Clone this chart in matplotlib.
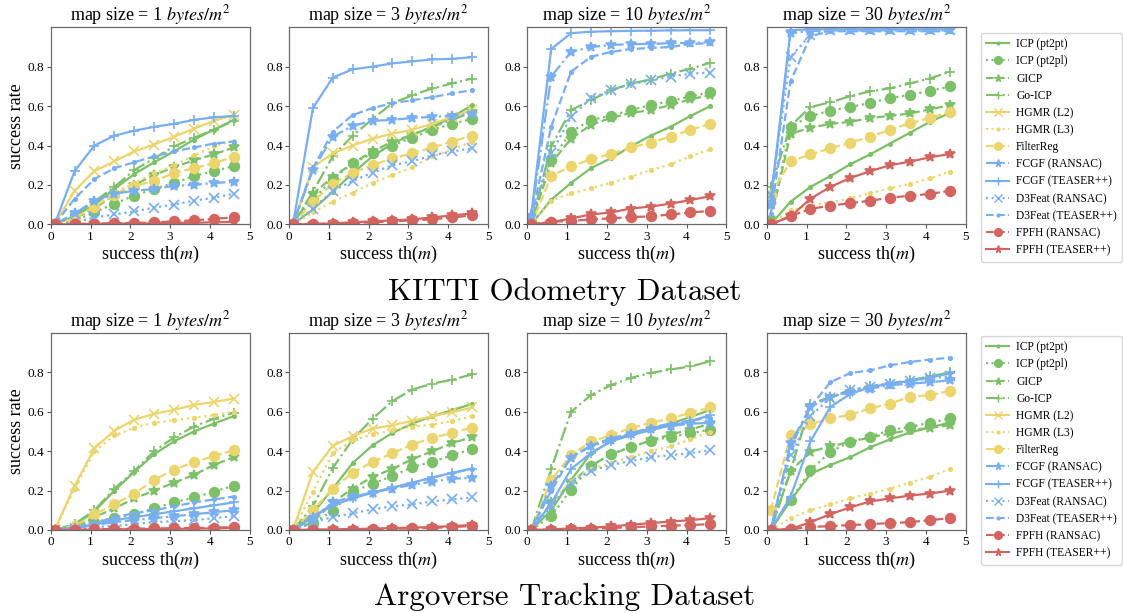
import matplotlib
matplotlib.use("Agg")
import matplotlib.pyplot as plt
from matplotlib.lines import Line2D

plt.rcParams['font.family'] = ['Liberation Serif', 'DejaVu Serif']
plt.rcParams['mathtext.fontset'] = 'stix'

# success threshold (m)
thresholds = [0.1, 0.6, 1.1, 1.6, 2.1, 2.6, 3.1, 3.6, 4.1, 4.6]
map_sizes = [1, 3, 10, 30]

methods = ["ICP (pt2pt)", "ICP (pt2pl)", "GICP", "Go-ICP", "HGMR (L2)", "HGMR (L3)",
           "FilterReg", "FCGF (RANSAC)", "FCGF (TEASER++)", "D3Feat (RANSAC)",
           "D3Feat (TEASER++)", "FPFH (RANSAC)", "FPFH (TEASER++)"]

GREEN, YELLOW, BLUE, RED = "#7cc068", "#ebd56c", "#78aef2", "#d3645f"
colors = [GREEN, GREEN, GREEN, GREEN, YELLOW, YELLOW, YELLOW,
          BLUE, BLUE, BLUE, BLUE, RED, RED]
linestyles = ["-", ":", "--", "-.", "-", ":", "--", "-.", "-", ":", "--", "--", "-"]
markers = [".", "o", "*", "+", "x", ".", "o", "*", "+", "x", ".", "o", "*"]
marker_sizes = [5, 7, 7, 7, 7, 5, 7, 7, 7, 7, 5, 7, 7]

# success rate per method (rows follow `methods`), KITTI Odometry
kitti_1 = [
    [0.0, 0.04, 0.10, 0.18, 0.255, 0.315, 0.37, 0.43, 0.48, 0.53],
    [0.0, 0.02, 0.06, 0.105, 0.145, 0.18, 0.21, 0.245, 0.27, 0.295],
    [0.0, 0.03, 0.08, 0.15, 0.20, 0.25, 0.29, 0.325, 0.355, 0.39],
    [0.0, 0.05, 0.115, 0.19, 0.275, 0.335, 0.395, 0.44, 0.48, 0.525],
    [0.0, 0.17, 0.27, 0.32, 0.37, 0.405, 0.445, 0.485, 0.525, 0.555],
    [0.0, 0.03, 0.09, 0.16, 0.21, 0.26, 0.30, 0.35, 0.395, 0.425],
    [0.0, 0.03, 0.09, 0.15, 0.195, 0.22, 0.26, 0.285, 0.31, 0.343],
    [0.0, 0.055, 0.12, 0.155, 0.17, 0.18, 0.195, 0.20, 0.21, 0.215],
    [0.0, 0.27, 0.40, 0.45, 0.475, 0.495, 0.51, 0.53, 0.543, 0.55],
    [0.0, 0.01, 0.035, 0.05, 0.065, 0.085, 0.10, 0.12, 0.135, 0.155],
    [0.0, 0.13, 0.23, 0.285, 0.315, 0.345, 0.37, 0.39, 0.41, 0.42],
    [0.0, 0.002, 0.004, 0.005, 0.007, 0.01, 0.015, 0.02, 0.028, 0.035],
    [0.0, 0.0, 0.002, 0.003, 0.004, 0.005, 0.007, 0.008, 0.01, 0.012],
]
kitti_3 = [
    [0.0, 0.075, 0.165, 0.26, 0.345, 0.41, 0.455, 0.495, 0.545, 0.605],
    [0.0, 0.125, 0.23, 0.31, 0.36, 0.40, 0.44, 0.48, 0.51, 0.535],
    [0.0, 0.155, 0.24, 0.31, 0.37, 0.42, 0.455, 0.495, 0.53, 0.57],
    [0.0, 0.165, 0.345, 0.45, 0.535, 0.615, 0.655, 0.69, 0.715, 0.74],
    [0.0, 0.29, 0.36, 0.40, 0.435, 0.46, 0.48, 0.51, 0.545, 0.58],
    [0.0, 0.06, 0.115, 0.16, 0.21, 0.25, 0.29, 0.345, 0.38, 0.42],
    [0.0, 0.115, 0.205, 0.262, 0.30, 0.335, 0.36, 0.39, 0.42, 0.45],
    [0.0, 0.275, 0.445, 0.50, 0.525, 0.53, 0.54, 0.545, 0.55, 0.56],
    [0.0, 0.59, 0.745, 0.787, 0.80, 0.817, 0.827, 0.837, 0.84, 0.848],
    [0.0, 0.08, 0.17, 0.22, 0.262, 0.30, 0.32, 0.35, 0.37, 0.385],
    [0.0, 0.285, 0.47, 0.555, 0.59, 0.615, 0.63, 0.645, 0.665, 0.68],
    [0.0, 0.002, 0.004, 0.006, 0.01, 0.015, 0.02, 0.025, 0.035, 0.045],
    [0.0, 0.0, 0.005, 0.01, 0.015, 0.02, 0.025, 0.035, 0.045, 0.055],
]
kitti_10 = [
    [0.0, 0.125, 0.21, 0.285, 0.335, 0.395, 0.45, 0.495, 0.55, 0.60],
    [0.01, 0.325, 0.47, 0.53, 0.55, 0.58, 0.605, 0.625, 0.65, 0.67],
    [0.01, 0.31, 0.435, 0.505, 0.54, 0.565, 0.58, 0.605, 0.635, 0.655],
    [0.01, 0.395, 0.58, 0.63, 0.68, 0.715, 0.735, 0.765, 0.79, 0.82],
    None,
    [0.0, 0.12, 0.157, 0.183, 0.21, 0.242, 0.275, 0.305, 0.345, 0.38],
    [0.0, 0.245, 0.295, 0.33, 0.357, 0.39, 0.415, 0.445, 0.48, 0.51],
    [0.04, 0.75, 0.875, 0.90, 0.91, 0.915, 0.915, 0.92, 0.92, 0.925],
    [0.05, 0.89, 0.97, 0.978, 0.98, 0.982, 0.983, 0.984, 0.985, 0.985],
    [0.02, 0.36, 0.545, 0.64, 0.68, 0.71, 0.73, 0.75, 0.765, 0.77],
    [0.03, 0.495, 0.775, 0.85, 0.875, 0.89, 0.895, 0.90, 0.915, 0.92],
    [0.0, 0.013, 0.017, 0.025, 0.03, 0.037, 0.04, 0.05, 0.06, 0.068],
    [0.0, 0.01, 0.03, 0.05, 0.06, 0.08, 0.09, 0.105, 0.123, 0.143],
]
kitti_30 = [
    [0.0, 0.115, 0.19, 0.245, 0.305, 0.355, 0.41, 0.465, 0.52, 0.565],
    [0.02, 0.495, 0.55, 0.577, 0.595, 0.617, 0.64, 0.657, 0.677, 0.70],
    [0.02, 0.46, 0.49, 0.51, 0.52, 0.54, 0.55, 0.563, 0.583, 0.605],
    [0.19, 0.50, 0.595, 0.62, 0.65, 0.675, 0.69, 0.715, 0.74, 0.775],
    None,
    [0.0, 0.073, 0.095, 0.11, 0.132, 0.157, 0.183, 0.205, 0.233, 0.267],
    [0.15, 0.32, 0.355, 0.385, 0.415, 0.445, 0.48, 0.513, 0.54, 0.57],
    [0.10, 0.97, 0.98, 0.985, 0.985, 0.985, 0.985, 0.985, 0.985, 0.985],
    [0.12, 0.985, 0.99, 0.99, 0.99, 0.99, 0.99, 0.99, 0.99, 0.99],
    [0.15, 0.85, 0.96, 0.985, 0.985, 0.985, 0.985, 0.985, 0.985, 0.985],
    [0.05, 0.725, 0.955, 0.98, 0.98, 0.98, 0.98, 0.98, 0.98, 0.98],
    [0.0, 0.042, 0.078, 0.095, 0.107, 0.12, 0.135, 0.145, 0.154, 0.17],
    [0.0, 0.04, 0.13, 0.19, 0.235, 0.27, 0.30, 0.318, 0.34, 0.357],
]

# Argoverse Tracking
argo_1 = [
    [0.0, 0.025, 0.095, 0.20, 0.295, 0.385, 0.45, 0.50, 0.54, 0.578],
    [0.0, 0.01, 0.04, 0.06, 0.08, 0.11, 0.14, 0.165, 0.195, 0.225],
    [0.0, 0.01, 0.065, 0.11, 0.16, 0.20, 0.24, 0.28, 0.33, 0.37],
    [0.0, 0.03, 0.10, 0.21, 0.30, 0.40, 0.47, 0.525, 0.565, 0.595],
    [0.0, 0.225, 0.415, 0.505, 0.56, 0.59, 0.61, 0.635, 0.65, 0.667],
    [0.0, 0.21, 0.40, 0.48, 0.52, 0.545, 0.557, 0.57, 0.583, 0.60],
    [0.0, 0.02, 0.08, 0.13, 0.185, 0.255, 0.305, 0.345, 0.375, 0.405],
    [0.0, 0.01, 0.025, 0.04, 0.05, 0.06, 0.07, 0.08, 0.09, 0.10],
    [0.0, 0.01, 0.03, 0.05, 0.065, 0.08, 0.095, 0.11, 0.125, 0.14],
    [0.0, 0.005, 0.015, 0.02, 0.03, 0.04, 0.045, 0.05, 0.06, 0.07],
    [0.0, 0.01, 0.035, 0.065, 0.085, 0.10, 0.12, 0.14, 0.155, 0.17],
    [0.0, 0.0, 0.003, 0.005, 0.007, 0.008, 0.009, 0.01, 0.012, 0.015],
    [0.0, 0.0, 0.002, 0.003, 0.004, 0.005, 0.006, 0.007, 0.008, 0.01],
]
argo_3 = [
    [0.0, 0.085, 0.21, 0.34, 0.43, 0.493, 0.54, 0.578, 0.608, 0.64],
    [0.0, 0.035, 0.098, 0.195, 0.235, 0.274, 0.32, 0.346, 0.38, 0.41],
    [0.0, 0.04, 0.14, 0.21, 0.27, 0.31, 0.36, 0.40, 0.44, 0.473],
    [0.0, 0.12, 0.315, 0.46, 0.565, 0.655, 0.713, 0.743, 0.763, 0.79],
    [0.0, 0.295, 0.427, 0.477, 0.515, 0.532, 0.554, 0.578, 0.598, 0.622],
    [0.0, 0.195, 0.39, 0.455, 0.485, 0.507, 0.524, 0.535, 0.552, 0.578],
    [0.0, 0.10, 0.21, 0.29, 0.346, 0.39, 0.434, 0.468, 0.493, 0.52],
    [0.0, 0.06, 0.14, 0.17, 0.19, 0.21, 0.23, 0.245, 0.26, 0.265],
    [0.0, 0.065, 0.125, 0.16, 0.19, 0.215, 0.24, 0.267, 0.29, 0.312],
    [0.0, 0.04, 0.065, 0.085, 0.105, 0.12, 0.13, 0.145, 0.155, 0.165],
    [0.0, 0.07, 0.13, 0.165, 0.19, 0.215, 0.24, 0.265, 0.29, 0.31],
    [0.0, 0.0, 0.001, 0.002, 0.004, 0.006, 0.008, 0.01, 0.015, 0.02],
    [0.0, 0.002, 0.003, 0.005, 0.007, 0.01, 0.012, 0.015, 0.02, 0.025],
]
argo_10 = [
    [0.0, 0.10, 0.253, 0.39, 0.45, 0.49, 0.515, 0.54, 0.574, 0.61],
    [0.0, 0.07, 0.205, 0.325, 0.385, 0.422, 0.453, 0.473, 0.49, 0.51],
    [0.0, 0.14, 0.24, 0.325, 0.385, 0.42, 0.455, 0.485, 0.51, 0.54],
    [0.0, 0.31, 0.60, 0.685, 0.735, 0.772, 0.797, 0.815, 0.83, 0.857],
    None,
    [0.0, 0.13, 0.25, 0.31, 0.34, 0.37, 0.40, 0.425, 0.46, 0.50],
    [0.0, 0.253, 0.38, 0.45, 0.48, 0.518, 0.544, 0.566, 0.595, 0.622],
    [0.0, 0.225, 0.368, 0.425, 0.456, 0.485, 0.515, 0.527, 0.54, 0.544],
    [0.0, 0.135, 0.31, 0.39, 0.45, 0.48, 0.507, 0.53, 0.553, 0.583],
    [0.0, 0.12, 0.24, 0.30, 0.33, 0.35, 0.37, 0.38, 0.39, 0.405],
    [0.0, 0.20, 0.37, 0.43, 0.465, 0.49, 0.52, 0.54, 0.555, 0.57],
    [0.0, 0.002, 0.004, 0.006, 0.01, 0.014, 0.018, 0.022, 0.025, 0.03],
    [0.0, 0.003, 0.008, 0.012, 0.018, 0.027, 0.035, 0.043, 0.05, 0.06],
]
argo_30 = [
    [0.0, 0.15, 0.285, 0.33, 0.37, 0.42, 0.46, 0.495, 0.52, 0.545],
    [0.0, 0.152, 0.304, 0.397, 0.447, 0.473, 0.507, 0.524, 0.544, 0.566],
    [0.0, 0.30, 0.397, 0.425, 0.447, 0.47, 0.49, 0.507, 0.518, 0.532],
    [0.0, 0.30, 0.64, 0.675, 0.71, 0.73, 0.745, 0.76, 0.78, 0.80],
    None,
    [0.0, 0.06, 0.10, 0.13, 0.16, 0.185, 0.21, 0.24, 0.27, 0.31],
    [0.10, 0.48, 0.537, 0.566, 0.585, 0.617, 0.642, 0.676, 0.684, 0.706],
    [0.0, 0.44, 0.625, 0.675, 0.70, 0.718, 0.735, 0.743, 0.75, 0.76],
    [0.0, 0.17, 0.45, 0.625, 0.69, 0.726, 0.743, 0.757, 0.773, 0.795],
    [0.0, 0.38, 0.58, 0.67, 0.71, 0.725, 0.74, 0.755, 0.77, 0.78],
    [0.0, 0.42, 0.625, 0.75, 0.797, 0.81, 0.836, 0.853, 0.865, 0.875],
    [0.0, 0.005, 0.015, 0.02, 0.025, 0.03, 0.035, 0.04, 0.05, 0.06],
    [0.0, 0.005, 0.04, 0.08, 0.115, 0.145, 0.16, 0.175, 0.185, 0.20],
]

W, H = 1123, 613
fig = plt.figure(figsize=(W / 100, H / 100), dpi=100)

lefts = [50.7, 289.0, 527.3, 766.7]
rows = [(224.3, [kitti_1, kitti_3, kitti_10, kitti_30]),
        (530.0, [argo_1, argo_3, argo_10, argo_30])]
ax_w, ax_h = 199.0, 197.0


def draw_panel(ax, table, size, first):
    for i, vals in enumerate(table):
        if vals is None:
            continue
        ax.plot(thresholds, vals, color=colors[i], linestyle=linestyles[i],
                marker=markers[i], markersize=marker_sizes[i], linewidth=1.6,
                markeredgewidth=1.2)
    ax.set_xlim(0, 5)
    ax.set_ylim(0, 1.0)
    ax.set_xticks([0, 1, 2, 3, 4, 5])
    ax.set_yticks([0.0, 0.2, 0.4, 0.6, 0.8])
    ax.set_yticklabels(["0.0", "0.2", "0.4", "0.6", "0.8"])
    ax.tick_params(labelsize=9.5, length=3, width=0.8, color="#555555", pad=1.5)
    for sp in ax.spines.values():
        sp.set_color("#6a6a6a")
        sp.set_linewidth(0.9)
    ax.set_title(r"map size = %d $bytes/m^2$" % size, fontsize=13, pad=4)
    ax.set_xlabel(r"success th($m$)", fontsize=13, labelpad=1)
    if first:
        ax.set_ylabel("success rate", fontsize=13, labelpad=2)


for bottom_px, tables in rows:
    for j, (table, size) in enumerate(zip(tables, map_sizes)):
        ax = fig.add_axes([lefts[j] / W, 1 - bottom_px / H, ax_w / W, ax_h / H])
        draw_panel(ax, table, size, j == 0)

# legend handles shared by both rows
handles = [Line2D([], [], color=colors[i], linestyle=linestyles[i], marker=markers[i],
                  markersize=marker_sizes[i] * 0.8, linewidth=1.5)
           for i in range(len(methods))]
for top_px in (33, 336):
    fig.legend(handles, methods, loc="upper left",
               bbox_to_anchor=(981 / W, 1 - top_px / H), fontsize=8.3,
               frameon=True, fancybox=True, edgecolor="#cccccc",
               handlelength=2.0, handletextpad=0.6, labelspacing=0.45,
               borderpad=0.45, borderaxespad=0.0)

fig.text(565 / W, 1 - 292 / H, "KITTI Odometry Dataset", family="cmr10",
         fontsize=22.3, ha="center", va="center")
fig.text(565 / W, 1 - 597 / H, "Argoverse Tracking Dataset", family="cmr10",
         fontsize=22.3, ha="center", va="center")

fig.savefig("out.png", dpi=100)
